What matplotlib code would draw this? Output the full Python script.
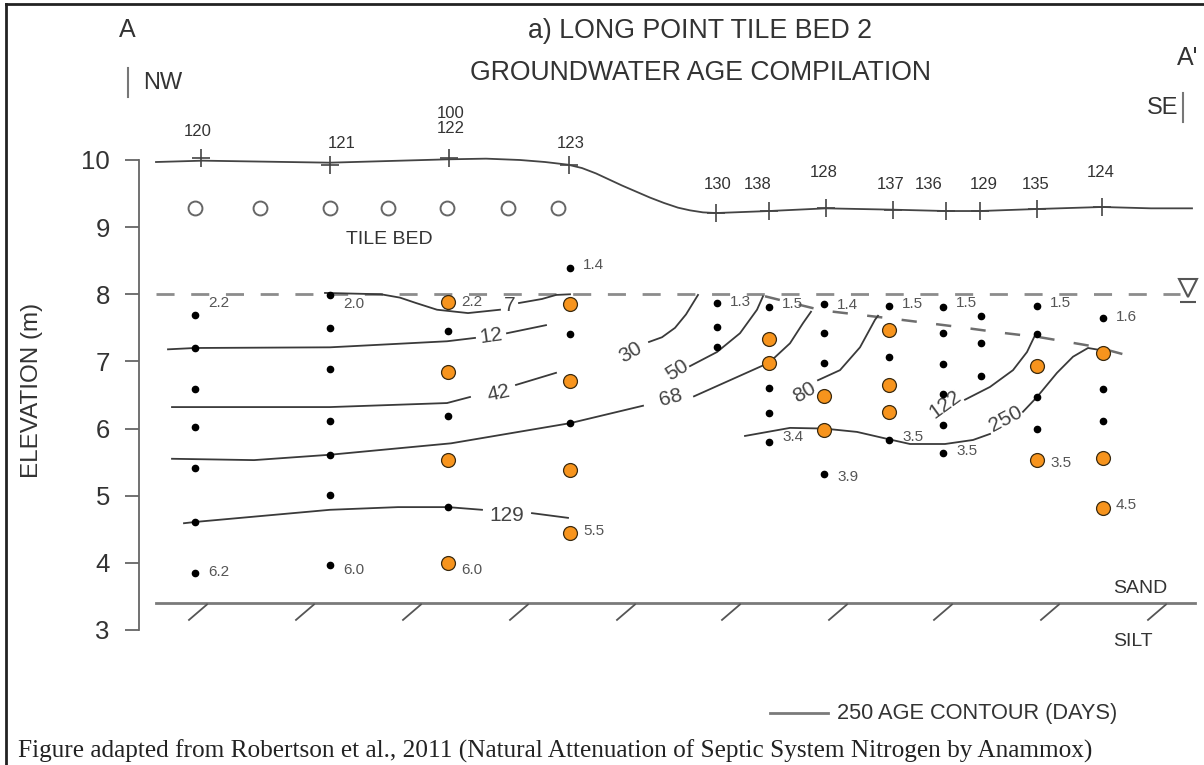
import matplotlib
matplotlib.use("Agg")
import matplotlib.pyplot as plt
import numpy as np
from matplotlib.lines import Line2D

plt.rcParams['font.family'] = ['Liberation Sans', 'DejaVu Sans']
plt.rcParams['lines.scale_dashes'] = False

W, H = 1204, 765
nan = np.nan

# horizontal distance along section (px scale), elevations in m
well_ids = ["120", "121", "100\n122", "123", "130", "138", "128",
            "137", "136", "129", "135", "124"]
well_x = [201, 330, 449, 569, 716, 769, 826, 893, 946, 980, 1037, 1102]
well_top = [10.03, 9.93, 10.03, 9.93, 9.21, 9.24, 9.28, 9.26, 9.24, 9.24,
            9.27, 9.30]
well_lab_x = [198, 342, 451, 571, 718, 758, 824, 891, 929, 984, 1036, 1101]
well_lab_e = [10.43, 10.24, 10.58, 10.24, 9.64, 9.64, 9.82, 9.64, 9.64,
              9.64, 9.64, 9.82]

ground_x = [156, 203, 330, 448, 486, 520, 545, 568, 582, 596, 609, 622,
            636, 650, 664, 678, 690, 703, 716, 769, 826, 893, 946, 980,
            1037, 1102, 1151, 1192]
ground_e = [9.97, 9.99, 9.96, 10.01, 10.02, 10.00, 9.97, 9.93, 9.88, 9.80,
            9.71, 9.62, 9.53, 9.44, 9.36, 9.29, 9.25, 9.22, 9.21, 9.24,
            9.28, 9.26, 9.24, 9.24, 9.27, 9.30, 9.28, 9.28]

tile_x = [195, 260, 330, 388, 447, 508, 558]
tile_e = 9.28

col_x = [195, 330, 448, 570, 717, 769, 824, 889, 943, 981, 1037, 1103]
black_e = [
    [7.69, 7.20, 6.59, 6.02, 5.41, 4.61, 3.85],
    [7.99, 7.50, 6.89, 6.11, 5.61, 5.01, 3.97],
    [7.45, 6.19, 4.83],
    [8.39, 7.41, 6.08],
    [7.87, 7.51, 7.21],
    [7.81, 6.61, 6.23, 5.80],
    [7.86, 7.43, 6.98, 5.33],
    [7.83, 7.07, 5.83],
    [7.81, 7.42, 6.96, 6.52, 6.05, 5.63],
    [7.68, 7.27, 6.78],
    [7.83, 7.41, 6.47, 5.99],
    [7.65, 6.59, 6.11],
]
orange_e = [
    [], [], [7.88, 6.84, 5.53, 4.00], [7.85, 6.71, 5.38, 4.44], [],
    [7.34, 6.98], [6.49, 5.98], [7.47, 6.65, 6.25], [], [],
    [6.93, 5.53], [7.13, 5.56, 4.81],
]

# groundwater age (yr) beside samples
age_txt = ["2.2", "6.2", "2.0", "6.0", "2.2", "6.0", "1.4", "5.5", "1.3",
           "1.5", "3.4", "1.4", "3.9", "1.5", "3.5", "1.5", "3.5", "1.5",
           "3.5", "1.6", "4.5"]
age_col = [0, 0, 1, 1, 2, 2, 3, 3, 4, 5, 5, 6, 6, 7, 7, 8, 8, 10, 10, 11, 11]
age_e = [7.87, 3.86, 7.86, 3.89, 7.88, 3.89, 8.44, 4.47, 7.88, 7.86, 5.87,
         7.84, 5.28, 7.86, 5.87, 7.87, 5.67, 7.87, 5.49, 7.66, 4.86]

# age contours (days)
contour_txt = ["7", "12", "42", "68", "129", "30", "50", "80", "122", "250"]
contour_x = [
    [325, 381, 400, 416, 437, 468, 500, nan, 519, 542, 556, 570],
    [168, 195, 330, 447, 475, nan, 507, 546],
    [172, 330, 447, 470, nan, 516, 556],
    [172, 254, 330, 451, 570, 643, nan, 694, 730, 769, 790, 803, 811],
    [184, 196, 330, 398, 448, 482, nan, 532, 568],
    [649, 662, 675, 686, 698],
    [690, 717, 740, 757, 763],
    [818, 840, 860, 875, 878],
    [965, 990, 1013, 1027, 1036],
    [745, 790, 824, 857, 889, 910, 945, 973, 990, nan, 1023, 1037, 1057,
     1073, 1088, 1100],
]
contour_e = [
    [8.02, 8.00, 7.95, 7.87, 7.77, 7.72, 7.77, nan, 7.87, 7.93, 7.99, 8.00],
    [7.18, 7.20, 7.21, 7.30, 7.35, nan, 7.42, 7.54],
    [6.32, 6.32, 6.38, 6.47, nan, 6.65, 6.83],
    [5.55, 5.53, 5.61, 5.78, 6.08, 6.34, nan, 6.48, 6.72, 6.98, 7.27, 7.57,
     7.74],
    [4.59, 4.61, 4.79, 4.83, 4.83, 4.79, nan, 4.74, 4.67],
    [7.29, 7.36, 7.50, 7.70, 7.99],
    [6.93, 7.14, 7.42, 7.77, 7.97],
    [6.72, 6.87, 7.21, 7.62, 7.68],
    [6.43, 6.62, 6.87, 7.14, 7.42],
    [5.89, 6.01, 6.00, 5.95, 5.84, 5.77, 5.77, 5.83, 5.92, nan, 6.25, 6.47,
     6.83, 7.07, 7.20, 7.17],
]
clab_x = [510, 491, 499, 671, 507, 631, 677, 804, 945, 1006]
clab_e = [7.83, 7.38, 6.53, 6.46, 4.71, 7.14, 6.87, 6.54, 6.36, 6.14]
clab_rot = [0, 8, 12, 15, 0, 30, 32, 30, 36, 28]

wt_x = [156, 1180]
wt_e = [8.0, 8.0]
mound_x = [765, 822, 885, 955, 1000, 1040, 1095, 1140]
mound_e = [7.97, 7.76, 7.65, 7.52, 7.43, 7.36, 7.22, 7.04]

contact_x = [156, 1195]
contact_e = 3.40
hatch_x = [198, 305, 412, 519, 626, 731, 838, 943, 1050, 1157]

fig = plt.figure(figsize=(W / 100, H / 100), dpi=100)
ax = fig.add_axes([0, 0, 1, 1])
ax.set_xlim(0, W)
ax.set_ylim(0.989, 12.383)

gray = "#7a7a7a"
ink = "#333333"

# ground surface and wells
ax.plot(ground_x, ground_e, color="#444444", lw=1.3)
ax.plot(well_x, well_top, ls="none", marker="+", ms=13, mew=1.2,
        color="#444444")
for wx, we, wid in zip(well_lab_x, well_lab_e, well_ids):
    ax.text(wx, we, wid, ha="center", va="center", fontsize=12,
            color=ink, linespacing=1.0)

# tile bed laterals
ax.plot(tile_x, [tile_e] * len(tile_x), ls="none", marker="o", ms=10,
        mfc="white", mec="#666666", mew=1.4)
ax.text(389, 8.82, "TILE BED", ha="center", va="center", fontsize=14,
        color=ink)

# water table
ax.plot(wt_x, wt_e, color="#8c8c8c", lw=2, dashes=(13, 12))
ax.plot(mound_x, mound_e, color="#6e6e6e", lw=1.8, dashes=(11, 14))
ax.plot([1188], [8.09], marker="v", ms=13, mfc="white", mec="#555555",
        mew=1.5, ls="none")
ax.plot([1188], [7.88], marker="_", ms=12, mec="#555555", mew=1.5,
        ls="none")

# age contours
for xs, es, t, lx, le, rot in zip(contour_x, contour_e, contour_txt,
                                  clab_x, clab_e, clab_rot):
    ax.plot(xs, es, color="#3a3a3a", lw=1.3)
    ax.text(lx, le, t, ha="center", va="center", fontsize=15, color="#444444",
            rotation=rot, rotation_mode="anchor")

# sampling points
for cx, be, oe in zip(col_x, black_e, orange_e):
    ax.plot([cx] * len(be), be, ls="none", marker="o", ms=4.5,
            color="black", zorder=5)
    ax.plot([cx] * len(oe), oe, ls="none", marker="o", ms=10,
            mfc="#f7941d", mec="#3a2a10", mew=0.9, zorder=6)
for t, ci, e in zip(age_txt, age_col, age_e):
    ax.text(col_x[ci] + 13, e, t, ha="left", va="center", fontsize=11,
            color="#555555")

# sand / silt contact
ax.plot(contact_x, [contact_e] * 2, color=gray, lw=2)
for hx in hatch_x:
    ax.plot([hx - 9, hx + 9], [contact_e - 0.25, contact_e - 0.02],
            color="#555555", lw=1.3)
ax.text(1113, 3.62, "SAND", ha="left", va="center", fontsize=14, color=ink)
ax.text(1113, 2.83, "SILT", ha="left", va="center", fontsize=14, color=ink)

# axis
for s in ["top", "right", "bottom"]:
    ax.spines[s].set_visible(False)
ax.spines["left"].set_position(("data", 139))
ax.spines["left"].set_bounds(3, 10)
ax.spines["left"].set_color("#666666")
ax.spines["left"].set_linewidth(1.3)
ax.set_xticks([])
ax.set_yticks(range(3, 11))
ax.tick_params(axis="y", length=10, width=1.3, color="#666666", pad=11,
               labelsize=18.5, labelcolor=ink)
ax.set_ylabel("ELEVATION (m)", fontsize=17.5, color=ink)
ax.yaxis.set_label_coords(43 / W, 1 - 390 / H)

# titles and section marks
fig.text(700 / W, 1 - 31 / H, "a) LONG POINT TILE BED 2", ha="center",
         va="center", fontsize=19.3, color=ink)
fig.text(700 / W, 1 - 73 / H, "GROUNDWATER AGE COMPILATION", ha="center",
         va="center", fontsize=19.2, color=ink)
fig.text(127 / W, 1 - 30 / H, "A", ha="center", va="center", fontsize=18,
         color=ink)
fig.text(143 / W, 1 - 83 / H, "NW", ha="left", va="center", fontsize=17,
         color=ink)
fig.add_artist(Line2D([128 / W] * 2, [1 - 68 / H, 1 - 97 / H],
                      color="#777777", lw=1.5))
fig.text(1198 / W, 1 - 58 / H, "A'", ha="right", va="center", fontsize=18,
         color=ink)
fig.text(1178 / W, 1 - 108 / H, "SE", ha="right", va="center", fontsize=17,
         color=ink)
fig.add_artist(Line2D([1183 / W] * 2, [1 - 93 / H, 1 - 122 / H],
                      color="#777777", lw=1.5))

# legend
fig.add_artist(Line2D([770 / W, 828 / W], [1 - 713 / H] * 2, color=gray,
                      lw=2))
fig.text(837 / W, 1 - 713 / H, "250 AGE CONTOUR (DAYS)", ha="left",
         va="center", fontsize=15.7, color=ink)

# caption and frame
fig.text(18 / W, 1 - 758 / H,
         "Figure adapted from Robertson et al., 2011 (Natural Attenuation "
         "of Septic System Nitrogen by Anammox)",
         ha="left", va="baseline", fontsize=18.2, color="#222222",
         family=["Liberation Serif", "DejaVu Serif"])
fig.add_artist(Line2D([6 / W, 6 / W], [0, 1 - 4 / H], color="#222222", lw=2))
fig.add_artist(Line2D([6 / W, 1], [1 - 4 / H] * 2, color="#222222", lw=2))

fig.savefig("out.png", dpi=100)
